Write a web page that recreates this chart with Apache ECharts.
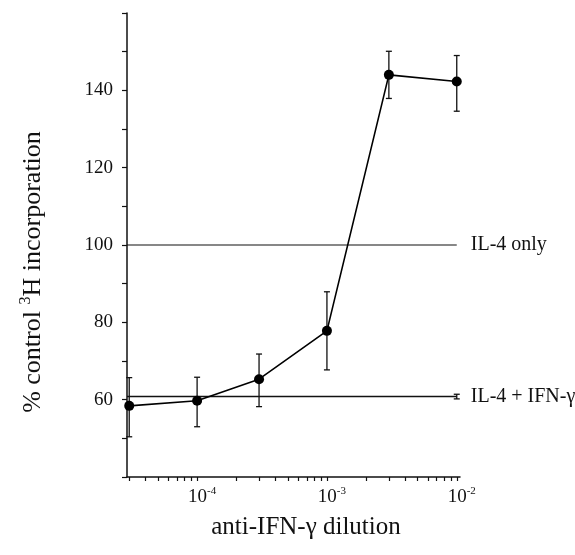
<!DOCTYPE html>
<html>
<head>
<meta charset="utf-8">
<style>
  html, body { margin: 0; padding: 0; background: #fff; }
  #chart { width: 575px; height: 555px; }
</style>
<script src="https://cdn.jsdelivr.net/npm/echarts@6/dist/echarts.min.js"></script>
</head>
<body>
<div id="chart"></div>
<script>
// anti-IFN-gamma dilution vs % control 3H incorporation
var dilutions = [3e-5, 1e-4, 3e-4, 1e-3, 3e-3, 1e-2];
var incorporation = [58.4, 59.7, 65.3, 77.8, 144.0, 142.3];
var errLow = [50.4, 53.0, 58.2, 67.7, 137.9, 134.6];
var errHigh = [65.7, 65.8, 71.8, 87.9, 150.1, 149.0];

// control levels (horizontal reference lines)
var il4Only = 100;
var il4Ifn = 60.8;
var il4IfnErr = [60.2, 61.4];

var xTickDilutions = [
  3e-5, 4e-5, 5e-5, 6e-5, 7e-5, 8e-5, 9e-5,
  1e-4, 2e-4, 3e-4, 4e-4, 5e-4, 6e-4, 7e-4, 8e-4, 9e-4,
  1e-3, 2e-3, 3e-3, 4e-3, 5e-3, 6e-3, 7e-3, 8e-3, 9e-3,
  1e-2
];
var xLabelDilutions = [1e-4, 1e-3, 1e-2];
var yLabels = [60, 80, 100, 120, 140];

var FONT = 'Liberation Serif';
var xMin = -4.54, xMax = -1.975;

var myChart = echarts.init(document.getElementById('chart'));

function lg(v) { return Math.log10(v); }

var lineData = dilutions.map(function (d, i) { return [lg(d), incorporation[i]]; });
var errData = dilutions.map(function (d, i) { return [lg(d), errLow[i], errHigh[i]]; });
errData.push([lg(1e-2), il4IfnErr[0], il4IfnErr[1]]);

function renderErr(params, api) {
  var x = api.value(0);
  var lo = api.coord([x, api.value(1)]);
  var hi = api.coord([x, api.value(2)]);
  var w = 3;
  var st = { stroke: '#111', lineWidth: 1.3 };
  return {
    type: 'group',
    children: [
      { type: 'line', shape: { x1: hi[0], y1: hi[1], x2: lo[0], y2: lo[1] }, style: st },
      { type: 'line', shape: { x1: hi[0] - w, y1: hi[1], x2: hi[0] + w, y2: hi[1] }, style: st },
      { type: 'line', shape: { x1: lo[0] - w, y1: lo[1], x2: lo[0] + w, y2: lo[1] }, style: st }
    ]
  };
}

var option = {
  animation: false,
  backgroundColor: '#fff',
  grid: {
    left: 127,
    right: 115,
    top: 13,
    bottom: 78,
    outerBoundsMode: 'none'
  },
  graphic: [{
    type: 'text',
    x: 33,
    y: 272,
    rotation: Math.PI / 2,
    style: {
      text: '{t|% control }{s|3}{t|H incorporation}',
      align: 'center',
      verticalAlign: 'middle',
      fill: '#111',
      rich: {
        t: { fontFamily: FONT, fontSize: 26, fill: '#111', lineHeight: 30 },
        s: { fontFamily: FONT, fontSize: 16, fill: '#111', verticalAlign: 'top', lineHeight: 16 }
      }
    }
  }],
  xAxis: {
    type: 'value',
    min: xMin,
    max: xMax,
    name: 'anti-IFN-γ dilution',
    nameLocation: 'middle',
    nameGap: 38,
    nameTextStyle: {
      fontFamily: FONT,
      fontSize: 25,
      color: '#111',
      padding: [0, 0, 0, 25]
    },
    axisLine: { show: true, onZero: false, lineStyle: { color: '#111', width: 1.5 } },
    axisTick: {
      show: true,
      length: 4,
      customValues: xTickDilutions.map(lg),
      lineStyle: { color: '#111', width: 1.2 }
    },
    axisLabel: {
      customValues: xLabelDilutions.map(lg),
      margin: 9,
      formatter: function (v) {
        return '{p|}{b|10}{s|' + Math.round(v) + '}';
      },
      rich: {
        p: { width: 10 },
        b: { fontFamily: FONT, fontSize: 19, color: '#111', lineHeight: 22 },
        s: { fontFamily: FONT, fontSize: 11, color: '#111', verticalAlign: 'top', lineHeight: 12 }
      }
    },
    splitLine: { show: false }
  },
  yAxis: {
    type: 'value',
    min: 40,
    max: 160,
    interval: 10,
    axisLine: { show: true, lineStyle: { color: '#111', width: 1.5 } },
    axisTick: { show: true, length: 5, lineStyle: { color: '#111', width: 1.2 } },
    axisLabel: {
      margin: 14,
      fontFamily: FONT,
      fontSize: 19,
      color: '#111',
      formatter: function (v) {
        return yLabels.indexOf(v) >= 0 ? String(v) : '';
      }
    },
    splitLine: { show: false }
  },
  series: [
    {
      name: 'IL-4 only',
      type: 'line',
      data: [[xMin, il4Only], [lg(1e-2), il4Only]],
      showSymbol: false,
      symbol: 'none',
      lineStyle: { color: '#111', width: 1.2 },
      endLabel: {
        show: true,
        formatter: 'IL-4 only',
        distance: 14,
        fontFamily: FONT,
        fontSize: 20,
        color: '#111'
      },
      silent: true
    },
    {
      name: 'IL-4 + IFN-γ',
      type: 'line',
      data: [[xMin, il4Ifn], [lg(1e-2), il4Ifn]],
      showSymbol: false,
      symbol: 'none',
      lineStyle: { color: '#111', width: 1.5 },
      endLabel: {
        show: true,
        formatter: 'IL-4 + IFN-γ',
        distance: 14,
        fontFamily: FONT,
        fontSize: 20,
        color: '#111'
      },
      silent: true
    },
    {
      name: 'error',
      type: 'custom',
      renderItem: renderErr,
      data: errData,
      z: 3
    },
    {
      name: 'anti-IFN-γ',
      type: 'line',
      data: lineData,
      symbol: 'circle',
      symbolSize: 10,
      itemStyle: { color: '#000' },
      lineStyle: { color: '#000', width: 1.6 },
      z: 4
    }
  ]
};

myChart.setOption(option, true);
</script>
</body>
</html>
